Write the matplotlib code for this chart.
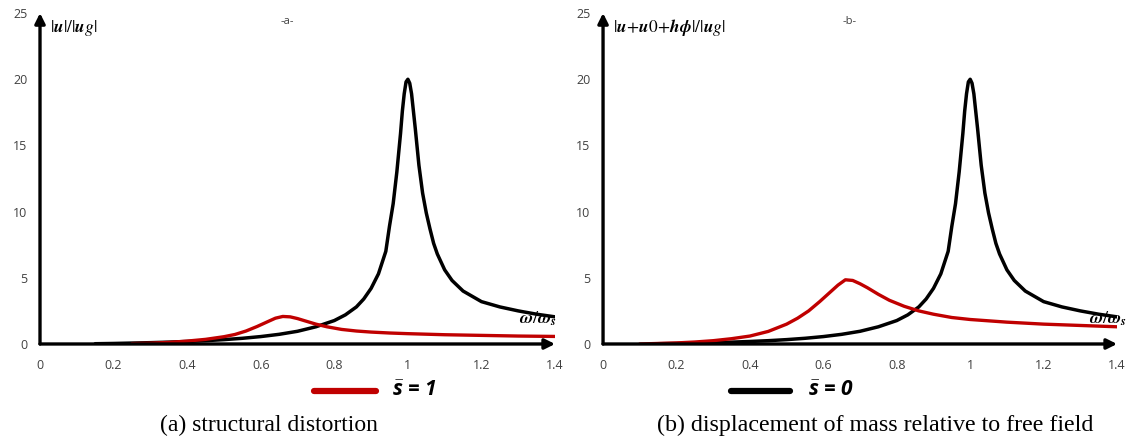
import matplotlib.pyplot as plt

plt.rcParams['mathtext.fontset'] = 'stix'
# sans bold-italic math for the legend keys
plt.rcParams['mathtext.rm'] = 'Open Sans:bold:italic'
plt.rcParams['mathtext.it'] = 'Open Sans:bold:italic'
plt.rcParams['mathtext.bf'] = 'Open Sans:bold:italic'

# frequency ratio w/ws and response amplitudes
w_fixed = [0.15, 0.2, 0.25, 0.3, 0.35, 0.4, 0.45, 0.5, 0.55, 0.6, 0.65, 0.7, 0.75, 0.8,
           0.83, 0.86, 0.88, 0.9, 0.92, 0.94, 0.95, 0.96, 0.97, 0.98, 0.985, 0.99, 0.995,
           1.0, 1.005, 1.01, 1.015, 1.02, 1.03, 1.04, 1.05, 1.06, 1.07, 1.08, 1.1, 1.12,
           1.15, 1.2, 1.25, 1.3, 1.35, 1.4]
amp_fixed = [0.02, 0.04, 0.07, 0.1, 0.14, 0.19, 0.25, 0.33, 0.43, 0.56, 0.73, 0.96, 1.3,
             1.77, 2.2, 2.8, 3.4, 4.2, 5.3, 7.0, 8.9, 10.6, 13.0, 15.9, 17.6, 18.9, 19.8,
             20.0, 19.7, 18.9, 17.6, 16.3, 13.5, 11.4, 9.9, 8.7, 7.6, 6.8, 5.6, 4.8,
             4.0, 3.2, 2.8, 2.5, 2.25, 2.05]

w_soil_a = [0.25, 0.3, 0.35, 0.4, 0.45, 0.5, 0.53, 0.56, 0.59, 0.62, 0.64, 0.66, 0.68,
            0.7, 0.72, 0.75, 0.78, 0.82, 0.86, 0.9, 0.95, 1.0, 1.1, 1.2, 1.3, 1.4]
amp_soil_a = [0.03, 0.06, 0.12, 0.22, 0.35, 0.55, 0.72, 0.98, 1.32, 1.7, 1.95, 2.08, 2.05,
              1.92, 1.75, 1.5, 1.3, 1.1, 0.98, 0.9, 0.83, 0.78, 0.7, 0.65, 0.6, 0.57]

w_soil_b = [0.1, 0.15, 0.2, 0.25, 0.3, 0.35, 0.4, 0.45, 0.5, 0.53, 0.56, 0.59, 0.62,
            0.64, 0.66, 0.68, 0.7, 0.72, 0.75, 0.78, 0.82, 0.86, 0.9, 0.95, 1.0, 1.1,
            1.2, 1.3, 1.4]
amp_soil_b = [0.0, 0.04, 0.08, 0.15, 0.25, 0.4, 0.6, 0.95, 1.5, 1.95, 2.5, 3.2, 3.95,
              4.45, 4.85, 4.8, 4.55, 4.25, 3.75, 3.3, 2.85, 2.5, 2.25, 2.0, 1.85, 1.65,
              1.5, 1.4, 1.3]

xticks = [0, 0.2, 0.4, 0.6, 0.8, 1, 1.2, 1.4]
xticklabels = ['0', '0.2', '0.4', '0.6', '0.8', '1', '1.2', '1.4']
yticks = [0, 5, 10, 15, 20, 25]

RED = '#C00000'
TICK_COLOR = '#404040'

fig = plt.figure(figsize=(11.43, 4.43), dpi=100)
ax_a = fig.add_axes([0.035, 0.2235, 0.4506, 0.747])
ax_b = fig.add_axes([0.5276, 0.2235, 0.4497, 0.747])


def setup_axes(ax, ylabel, tag, xlab_x):
    ax.set_xlim(0, 1.4)
    ax.set_ylim(0, 25)
    for s in ax.spines.values():
        s.set_visible(False)
    ax.set_xticks(xticks)
    ax.set_xticklabels(xticklabels)
    ax.set_yticks(yticks)
    ax.tick_params(length=0, labelsize=9, colors=TICK_COLOR, labelfontfamily='Open Sans')
    ax.tick_params(axis='x', pad=11)
    ax.tick_params(axis='y', pad=9)
    # arrow-style axes
    ax.annotate('', xy=(1.0, 0), xytext=(0, 0), xycoords='axes fraction',
                arrowprops=dict(arrowstyle='-|>', lw=2.4, color='black',
                                mutation_scale=15, shrinkA=0, shrinkB=0))
    ax.annotate('', xy=(0, 1.0), xytext=(0, 0), xycoords='axes fraction',
                arrowprops=dict(arrowstyle='-|>', lw=2.4, color='black',
                                mutation_scale=15, shrinkA=0, shrinkB=0))
    ax.text(0.02, 0.955, ylabel, transform=ax.transAxes, fontsize=12.5, va='center',
            ha='left', math_fontfamily='stix')
    ax.text(0.48, 0.975, tag, transform=ax.transAxes, fontsize=8, color=TICK_COLOR,
            va='center', ha='center', family='Open Sans')
    ax.text(xlab_x, 0.075, r'$\mathbfit{\omega}/\mathbfit{\omega_s}$', transform=ax.transAxes,
            fontsize=13, va='center', ha='left', math_fontfamily='stix')


ax_a.plot(w_fixed, amp_fixed, color='black', lw=2.5, solid_capstyle='round')
ax_a.plot(w_soil_a, amp_soil_a, color=RED, lw=2.4, solid_capstyle='round')
setup_axes(ax_a, r'$|\mathbfit{u}|/|\mathbfit{u}g|$', '-a-', 0.93)

ax_b.plot(w_fixed, amp_fixed, color='black', lw=2.5, solid_capstyle='round')
ax_b.plot(w_soil_b, amp_soil_b, color=RED, lw=2.4, solid_capstyle='round')
setup_axes(ax_b, r'$|\mathbfit{u}\!+\!\mathbfit{u}0\!+\!\mathbfit{h\phi}|/|\mathbfit{u}g|$',
           '-b-', 0.945)

# legend keys under each panel
key_y = 1 - 391 / 443
fig.add_artist(plt.Line2D([314 / 1143, 376 / 1143], [key_y] * 2, color=RED, lw=4.5,
                          solid_capstyle='round'))
fig.text(392 / 1143, key_y, r'$\bar{s}$ = 1', fontsize=15, va='center', ha='left',
         family='Open Sans', weight='bold', style='italic', math_fontfamily='custom')
fig.add_artist(plt.Line2D([731 / 1143, 790 / 1143], [key_y] * 2, color='black',
                          lw=4.5, solid_capstyle='round'))
fig.text(808 / 1143, key_y, r'$\bar{s}$ = 0', fontsize=15, va='center', ha='left',
         family='Open Sans', weight='bold', style='italic', math_fontfamily='custom')

fig.text(269 / 1143, 1 - 425 / 443, '(a) structural distortion', fontsize=17,
         family='Liberation Serif', ha='center', va='center')
fig.text(875 / 1143, 1 - 425 / 443, '(b) displacement of mass relative to free field',
         fontsize=17.3, family='Liberation Serif', ha='center', va='center')

fig.savefig('out.png', dpi=100)
